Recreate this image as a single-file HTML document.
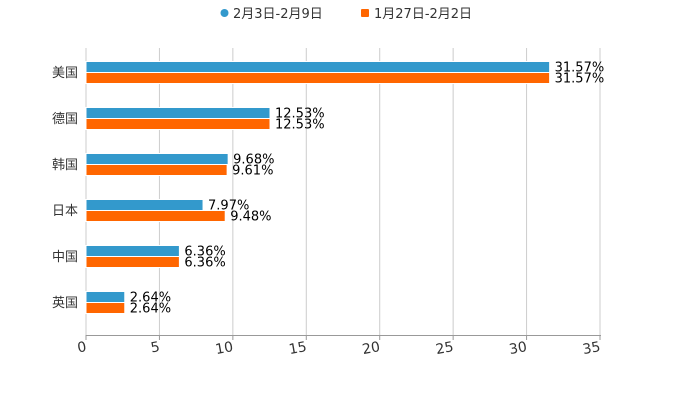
<!DOCTYPE html>
<html><head><meta charset="utf-8"><style>
body{margin:0;background:#fff}
svg{font-family:"DejaVu Sans","Noto Sans CJK SC",sans-serif}
</style></head><body>
<svg width="700" height="400">
<g>
<circle cx="224.5" cy="13" r="4" fill="#3399cc"/>
<text x="233" y="18" font-size="13" fill="#333">2月3日-2月9日</text>
<rect x="361" y="9" width="8" height="8" rx="1" fill="#ff6600"/>
<text x="374" y="18" font-size="13" fill="#333">1月27日-2月2日</text>
</g>
<g id="grid"></g>
<g id="bars"></g>
<g id="axes"></g>
</svg>
<script>
const categories=["美国","德国","韩国","日本","中国","英国"];
const seriesA=[31.57,12.53,9.68,7.97,6.36,2.64];
const seriesB=[31.57,12.53,9.61,9.48,6.36,2.64];
const ticks=[0,5,10,15,20,25,30,35];
const NS="http://www.w3.org/2000/svg";
const x0=86,x1=600,yTop=48,yBot=335,xmax=35;
const xs=v=>x0+(v/xmax)*(x1-x0);
const band=46;
const yc=i=>72+band*i;
function mk(t,a,p){const e=document.createElementNS(NS,t);for(const k in a)e.setAttribute(k,a[k]);p.appendChild(e);return e;}
const grid=document.getElementById('grid'),bars=document.getElementById('bars'),axes=document.getElementById('axes');
ticks.forEach(t=>{
 const l=mk('line',{x1:xs(t),x2:xs(t),y1:yTop,y2:yBot,stroke:'#ccc','stroke-width':1},grid);
 
 
 const tk=mk('line',{x1:xs(t),x2:xs(t),y1:yBot,y2:yBot+5,stroke:'#999'},axes);
 
 
 const tx=mk('text',{x:xs(t)+1,y:yBot+16,'font-size':14,fill:'#333','text-anchor':'end',transform:`rotate(-10 ${xs(t)+1} ${yBot+16})`},axes);
 tx.textContent=t;
 
 
});
const ax=mk('line',{x1:x0,x2:x1+1,y1:yBot+0.5,y2:yBot+0.5,stroke:'#999'},axes);


categories.forEach((c,i)=>{
 const y=yc(i);
 const lb=mk('text',{x:78,y:y+5,'font-size':13,fill:'#333','text-anchor':'end'},axes);
 lb.textContent=c;
 
 
 [[seriesA,'#3399cc',y-10.5],[seriesB,'#ff6600',y+0.5]].forEach(([s,col,by],j)=>{
  const r=mk('rect',{x:x0,y:by,width:xs(s[i])-x0,height:11,fill:col,stroke:'#fff','stroke-width':1},bars);
  
  
  const v=mk('text',{x:xs(s[i])+5,y:by+10,'font-size':13,fill:'#000'},bars);
  v.textContent=s[i].toFixed(2)+'%';
  
  
 });
});
</script>
</body></html>
